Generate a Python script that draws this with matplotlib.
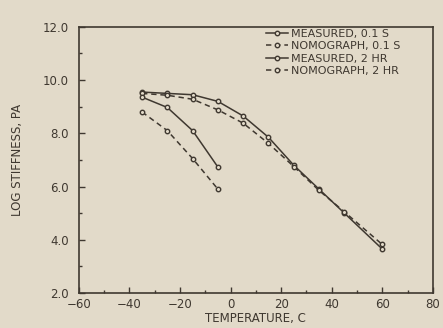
import matplotlib
matplotlib.use("Agg")
import matplotlib.pyplot as plt
from matplotlib.ticker import MultipleLocator

# data
temp_short = [-35, -25, -15, -5, 5, 15, 25, 35, 45, 60]
meas_short = [9.55, 9.5, 9.45, 9.2, 8.65, 7.85, 6.8, 5.9, 5.0, 3.65]
nomo_short = [9.5, 9.43, 9.28, 8.88, 8.38, 7.62, 6.75, 5.85, 5.05, 3.82]

temp_long = [-35, -25, -15, -5]
meas_long = [9.36, 8.97, 8.1, 6.73]
nomo_long = [8.8, 8.1, 7.05, 5.9]

ink = "#3f3830"
paper = "#e2dac9"

fig = plt.figure(figsize=(4.43, 3.28), dpi=100, facecolor=paper)
ax = fig.add_axes([0.178, 0.107, 0.799, 0.811])
ax.set_facecolor(paper)

mk = dict(marker="o", markersize=3.2, markerfacecolor=paper, markeredgecolor=ink,
          markeredgewidth=1.0, color=ink, linewidth=1.1)
ax.plot(temp_short, meas_short, linestyle="-", label="MEASURED, 0.1 S", **mk)
ax.plot(temp_short, nomo_short, linestyle=(0, (3.5, 2.5)), label="NOMOGRAPH, 0.1 S", **mk)
ax.plot(temp_long, meas_long, linestyle="-", label="MEASURED, 2 HR", **mk)
ax.plot(temp_long, nomo_long, linestyle=(0, (3.5, 2.5)), label="NOMOGRAPH, 2 HR", **mk)

ax.set_xlim(-60, 80)
ax.set_ylim(2, 12)
ax.xaxis.set_major_locator(MultipleLocator(20))
ax.xaxis.set_minor_locator(MultipleLocator(10))
ax.yaxis.set_major_locator(MultipleLocator(2))
ax.yaxis.set_minor_locator(MultipleLocator(1))
ax.yaxis.set_major_formatter(lambda v, p: f"{v:.1f}")
ax.xaxis.set_major_formatter(lambda v, p: f"{v:.0f}".replace("-", "\u2212"))

ax.tick_params(which="both", direction="in", color=ink, labelcolor=ink, labelsize=8.5)
ax.tick_params(which="major", length=4, width=1)
ax.tick_params(axis="y", pad=7)
ax.tick_params(which="minor", length=2.5, width=1)
for s in ax.spines.values():
    s.set_color(ink)
    s.set_linewidth(1.2)

ax.set_xlabel("TEMPERATURE, C", color=ink, fontsize=8.5, labelpad=1)
ax.set_ylabel("LOG STIFFNESS, PA", color=ink, fontsize=8.5, labelpad=14)

leg = ax.legend(loc="upper right", frameon=False, fontsize=8, handlelength=2.0,
                handletextpad=0.3, labelspacing=0.2, borderaxespad=0, borderpad=0.2,
                bbox_to_anchor=(0.915, 1.0))
for t in leg.get_texts():
    t.set_color(ink)

fig.savefig("out.png", dpi=100, facecolor=paper)
